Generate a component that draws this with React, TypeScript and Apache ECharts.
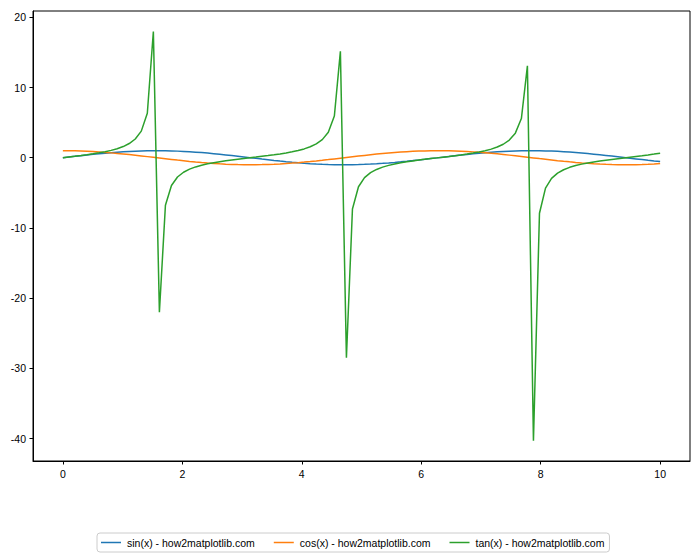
import React, { useEffect, useRef } from "react";
import * as echarts from "echarts";

const X = [0, 0.1010, 0.2020, 0.3030, 0.4040, 0.5051, 0.6061, 0.7071, 0.8081, 0.9091, 1.0101, 1.1111, 1.2121, 1.3131, 1.4141, 1.5152, 1.6162, 1.7172, 1.8182, 1.9192, 2.0202, 2.1212, 2.2222, 2.3232, 2.4242, 2.5253, 2.6263, 2.7273, 2.8283, 2.9293, 3.0303, 3.1313, 3.2323, 3.3333, 3.4343, 3.5354, 3.6364, 3.7374, 3.8384, 3.9394, 4.0404, 4.1414, 4.2424, 4.3434, 4.4444, 4.5455, 4.6465, 4.7475, 4.8485, 4.9495, 5.0505, 5.1515, 5.2525, 5.3535, 5.4545, 5.5556, 5.6566, 5.7576, 5.8586, 5.9596, 6.0606, 6.1616, 6.2626, 6.3636, 6.4646, 6.5657, 6.6667, 6.7677, 6.8687, 6.9697, 7.0707, 7.1717, 7.2727, 7.3737, 7.4747, 7.5758, 7.6768, 7.7778, 7.8788, 7.9798, 8.0808, 8.1818, 8.2828, 8.3838, 8.4848, 8.5859, 8.6869, 8.7879, 8.8889, 8.9899, 9.0909, 9.1919, 9.2929, 9.3939, 9.4949, 9.5960, 9.6970, 9.7980, 9.8990, 10.0];

const SIN = [0, 0.101, 0.201, 0.298, 0.393, 0.484, 0.570, 0.650, 0.723, 0.789,
  0.847, 0.896, 0.936, 0.967, 0.988, 0.999, 0.999, 0.989, 0.970, 0.940,
  0.901, 0.852, 0.795, 0.730, 0.658, 0.578, 0.493, 0.403, 0.308, 0.211,
  0.111, 0.010, -0.091, -0.191, -0.289, -0.384, -0.475, -0.561, -0.642, -0.716,
  -0.783, -0.841, -0.892, -0.933, -0.964, -0.986, -0.998, -0.999, -0.991, -0.972,
  -0.943, -0.905, -0.858, -0.801, -0.737, -0.666, -0.587, -0.502, -0.412, -0.318,
  -0.221, -0.121, -0.021, 0.080, 0.180, 0.279, 0.374, 0.466, 0.553, 0.634,
  0.708, 0.776, 0.836, 0.887, 0.929, 0.962, 0.984, 0.997, 1.000, 0.992,
  0.974, 0.947, 0.909, 0.863, 0.808, 0.744, 0.673, 0.596, 0.511, 0.421,
  0.328, 0.231, 0.132, 0.031, -0.070, -0.170, -0.269, -0.365, -0.457, -0.544];

const COS = [1, 0.995, 0.980, 0.954, 0.920, 0.875, 0.822, 0.760, 0.691, 0.615,
  0.532, 0.444, 0.351, 0.255, 0.156, 0.056, -0.045, -0.146, -0.245, -0.341,
  -0.434, -0.523, -0.606, -0.683, -0.754, -0.816, -0.870, -0.915, -0.951, -0.978,
  -0.994, -1.000, -0.996, -0.982, -0.957, -0.924, -0.880, -0.828, -0.767, -0.699,
  -0.623, -0.540, -0.453, -0.361, -0.265, -0.166, -0.066, 0.035, 0.136, 0.235,
  0.332, 0.425, 0.514, 0.598, 0.676, 0.747, 0.809, 0.865, 0.911, 0.948,
  0.975, 0.993, 1.000, 0.997, 0.984, 0.960, 0.927, 0.885, 0.833, 0.773,
  0.706, 0.631, 0.549, 0.462, 0.370, 0.275, 0.176, 0.076, -0.025, -0.126,
  -0.225, -0.322, -0.416, -0.505, -0.590, -0.668, -0.740, -0.804, -0.860, -0.907,
  -0.945, -0.973, -0.991, -1.000, -0.998, -0.985, -0.963, -0.931, -0.890, -0.839];

const TAN = [0, 0.101, 0.205, 0.313, 0.428, 0.553, 0.693, 0.854, 1.046, 1.284,
  1.592, 2.02, 2.67, 3.79, 6.33, 17.97, -22.0, -6.78, -3.96, -2.75,
  -2.07, -1.63, -1.31, -1.067, -0.872, -0.709, -0.567, -0.440, -0.324, -0.216,
  -0.112, -0.010, 0.091, 0.194, 0.301, 0.416, 0.540, 0.679, 0.838, 1.025,
  1.256, 1.556, 1.97, 2.58, 3.64, 5.93, 15.15, -28.5, -7.30, -4.14,
  -2.84, -2.13, -1.67, -1.34, -1.09, -0.893, -0.727, -0.580, -0.452, -0.335,
  -0.226, -0.122, -0.021, 0.081, 0.183, 0.290, 0.403, 0.526, 0.662, 0.819,
  1.002, 1.227, 1.52, 1.92, 2.51, 3.50, 5.58, 13.1, -40.3, -7.91,
  -4.33, -2.94, -2.19, -1.71, -1.37, -1.11, -0.912, -0.742, -0.593, -0.465,
  -0.347, -0.237, -0.133, -0.031, 0.070, 0.173, 0.279, 0.392, 0.514, 0.648];

const X_TICKS = [0, 2, 4, 6, 8, 10];
const Y_TICKS = [-40, -30, -20, -10, 0, 10, 20];

const SERIES_NAMES = ["sin(x) - how2matplotlib.com", "cos(x) - how2matplotlib.com", "tan(x) - how2matplotlib.com"];
const COLORS = ["#1f77b4", "#ff7f0e", "#2ca02c"];

export default function App() {
  const ref = useRef<HTMLDivElement>(null);
  useEffect(() => {
    if (!ref.current) return;
    const chart = echarts.init(ref.current, null, { renderer: "svg" });
    const font = "'Liberation Sans', Arial, sans-serif";
    const ys = [SIN, COS, TAN];
    chart.setOption({
      animation: false,
      backgroundColor: "#ffffff",
      color: COLORS,
      grid: {
        left: 33, right: 10, top: 11, bottom: 99,
        show: true, borderColor: "#000", borderWidth: 1, backgroundColor: "transparent",
        containLabel: false,
      },
      xAxis: {
        type: "value", min: -0.5, max: 10.5,
        axisLine: { show: true, onZero: false, lineStyle: { color: "#000", width: 1 } },
        axisTick: { show: true, length: 3.5, lineStyle: { color: "#000" }, customValues: X_TICKS },
        axisLabel: { color: "#000", fontSize: 10.5, fontFamily: font, margin: 7, customValues: X_TICKS },
        splitLine: { show: false },
      },
      yAxis: {
        type: "value", min: -43.2, max: 20.9,
        axisLine: { show: true, onZero: false, lineStyle: { color: "#000", width: 1 } },
        axisTick: { show: true, length: 3.5, lineStyle: { color: "#000" }, customValues: Y_TICKS },
        axisLabel: { color: "#000", fontSize: 10.5, fontFamily: font, margin: 7, customValues: Y_TICKS },
        splitLine: { show: false },
      },
      legend: {
        top: 533, left: 97,
        icon: "rect", itemWidth: 20, itemHeight: 1.5, itemGap: 19,
        padding: [4, 5, 4, 4],
        borderColor: "#cccccc", borderWidth: 1, borderRadius: 3,
        textStyle: { color: "#000", fontSize: 10.5, fontFamily: font, padding: [0, 0, 0, 1] },
        data: SERIES_NAMES,
      },
      series: SERIES_NAMES.map((name, k) => ({
        name, type: "line", showSymbol: false, symbol: "none",
        lineStyle: { width: 1.5, color: COLORS[k] },
        itemStyle: { color: COLORS[k] },
        data: X.map((x, i) => [x, ys[k][i]]),
        z: k + 2,
      })),
    });
    return () => chart.dispose();
  }, []);
  return <div ref={ref} style={{ position: "fixed", left: 0, top: 0, width: 700, height: 560 }} />;
}
